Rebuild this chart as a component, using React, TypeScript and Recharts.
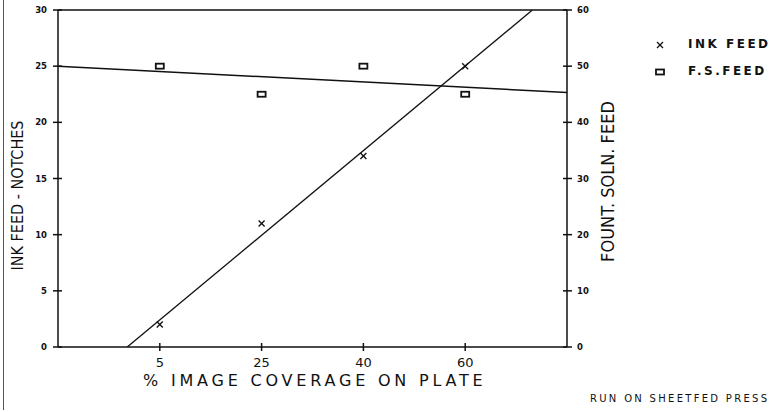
import React from "react";
import {
  ComposedChart,
  Line,
  Scatter,
  XAxis,
  YAxis,
  ReferenceLine,
} from "recharts";

// % image coverage categories, drawn evenly spaced at positions 1..4
const coverage = ["5", "25", "40", "60"];
const inkFeed = [2, 11, 17, 25]; // notches, left axis
const fsFeed = [50, 45, 50, 45]; // fount. soln. feed, right axis

// fitted lines (x = category position)
const inkFitX = [0.68, 4.66];
const inkFitY = [0, 30];
const fsFitX = [0, 5];
const fsFitY = [50, 45.3];

const leftTicks = [0, 5, 10, 15, 20, 25, 30];
const rightTicks = [0, 10, 20, 30, 40, 50, 60];

const inkData = coverage.map((c, i) => ({ x: i + 1, label: c, y: inkFeed[i] }));
const fsData = coverage.map((c, i) => ({ x: i + 1, label: c, y: fsFeed[i] }));
const inkFit = inkFitX.map((x, i) => ({ x, y: inkFitY[i] }));
const fsFit = fsFitX.map((x, i) => ({ x, y: fsFitY[i] }));

const INK = "#111";

const LeftTick = (props: any) => {
  const { x, y, payload } = props;
  return (
    <g>
      <line x1={x - 5} x2={x + 4} y1={y} y2={y} stroke={INK} strokeWidth={1.5} />
      <text
        x={x - 11}
        y={y}
        dy={3}
        textAnchor="end"
        fontSize={8.5}
        fontWeight="bold"
        fontFamily="DejaVu Sans"
        fill={INK}
      >
        {payload.value}
      </text>
    </g>
  );
};

const RightTick = (props: any) => {
  const { x, y, payload } = props;
  return (
    <g>
      <line x1={x - 4} x2={x + 5} y1={y} y2={y} stroke={INK} strokeWidth={1.5} />
      <text
        x={x + 10}
        y={y}
        dy={3}
        textAnchor="start"
        fontSize={8.5}
        fontWeight="bold"
        fontFamily="DejaVu Sans"
        fill={INK}
      >
        {payload.value}
      </text>
    </g>
  );
};

const BottomTick = (props: any) => {
  const { x, y, payload } = props;
  return (
    <g>
      <line x1={x} x2={x} y1={y - 4} y2={y + 4} stroke={INK} strokeWidth={1.5} />
      <text
        x={x}
        y={y + 20}
        textAnchor="middle"
        fontSize={13}
        fontFamily="DejaVu Sans"
        fill={INK}
      >
        {coverage[payload.value - 1]}
      </text>
    </g>
  );
};

const Cross = (props: any) => {
  const { cx, cy } = props;
  return (
    <g stroke={INK} strokeWidth={1.3}>
      <line x1={cx - 3} y1={cy - 3} x2={cx + 3} y2={cy + 3} />
      <line x1={cx - 3} y1={cy + 3} x2={cx + 3} y2={cy - 3} />
    </g>
  );
};

const Box = (props: any) => {
  const { cx, cy } = props;
  return (
    <rect x={cx - 4} y={cy - 2.5} width={8} height={5} fill="#fff" stroke={INK} strokeWidth={1.8} />
  );
};

const LegendBox = () => (
  <div style={{ fontFamily: "DejaVu Sans", fontWeight: "bold", fontSize: 12, color: INK, letterSpacing: 2.5 }}>
    <div style={{ display: "flex", alignItems: "center", height: 27 }}>
      <svg width={33} height={12}>
        <Cross cx={5} cy={7} />
      </svg>
      <span>INK FEED</span>
    </div>
    <div style={{ display: "flex", alignItems: "center", height: 27 }}>
      <svg width={33} height={12}>
        <Box cx={5} cy={7} />
      </svg>
      <span>F.S.FEED</span>
    </div>
  </div>
);

const rotated = (size: number): React.CSSProperties => ({
  transform: "rotate(-90deg)",
  whiteSpace: "nowrap",
  fontFamily: "DejaVu Sans Condensed, DejaVu Sans",
  fontStretch: "condensed",
  fontSize: size,
  color: INK,
});

export default function App() {
  return (
    <div style={{ position: "absolute", left: 0, top: 0, width: 774, height: 412, background: "#fff" }}>
      <div style={{ position: "absolute", left: 3, top: 0, width: 1, height: 410, background: "#555" }} />
      <ComposedChart
        width={774}
        height={412}
        margin={{ top: 10, right: 167, bottom: 35, left: 8 }}
      >
        <XAxis
          dataKey="x"
          type="number"
          domain={[0, 5]}
          ticks={[1, 2, 3, 4]}
          height={30}
          tickSize={0}
          tickMargin={0}
          tickLine={false}
          axisLine={{ stroke: INK, strokeWidth: 1.5 }}
          tick={<BottomTick />}
          allowDataOverflow
        />
        <YAxis
          yAxisId="left"
          type="number"
          domain={[0, 30]}
          ticks={leftTicks}
          width={50}
          tickSize={0}
          tickMargin={0}
          tickLine={false}
          axisLine={{ stroke: INK, strokeWidth: 1.5 }}
          tick={<LeftTick />}
          allowDataOverflow
        />
        <YAxis
          yAxisId="right"
          orientation="right"
          type="number"
          domain={[0, 60]}
          ticks={rightTicks}
          width={40}
          tickSize={0}
          tickMargin={0}
          tickLine={false}
          axisLine={{ stroke: INK, strokeWidth: 1.5 }}
          tick={<RightTick />}
          allowDataOverflow
        />
        <ReferenceLine yAxisId="left" y={30} stroke={INK} strokeWidth={1.5} />
        <Line
          yAxisId="left"
          data={inkFit}
          dataKey="y"
          type="linear"
          stroke={INK}
          strokeWidth={1.3}
          dot={false}
          activeDot={false}
          legendType="none"
          isAnimationActive={false}
        />
        <Line
          yAxisId="right"
          data={fsFit}
          dataKey="y"
          type="linear"
          stroke={INK}
          strokeWidth={1.5}
          dot={false}
          activeDot={false}
          legendType="none"
          isAnimationActive={false}
        />
        <Scatter
          yAxisId="left"
          name="INK FEED"
          data={inkData}
          dataKey="y"
          shape={<Cross />}
          isAnimationActive={false}
        />
        <Scatter
          yAxisId="right"
          name="F.S.FEED"
          data={fsData}
          dataKey="y"
          shape={<Box />}
          isAnimationActive={false}
        />
      </ComposedChart>
      <div style={{ position: "absolute", left: 655, top: 30 }}>
        <LegendBox />
      </div>
      <div
        style={{
          position: "absolute",
          left: 6,
          top: 100,
          width: 24,
          height: 190,
          display: "flex",
          alignItems: "center",
          justifyContent: "center",
        }}
      >
        <div style={rotated(16)}>INK FEED - NOTCHES</div>
      </div>
      <div
        style={{
          position: "absolute",
          left: 595,
          top: 91,
          width: 24,
          height: 180,
          display: "flex",
          alignItems: "center",
          justifyContent: "center",
        }}
      >
        <div style={rotated(18)}>FOUNT. SOLN. FEED</div>
      </div>
      <div
        style={{
          position: "absolute",
          left: 143,
          top: 371,
          fontFamily: "DejaVu Sans",
          fontSize: 16,
          letterSpacing: 3.8,
          color: INK,
          whiteSpace: "nowrap",
        }}
      >
        % IMAGE COVERAGE ON PLATE
      </div>
      <div
        style={{
          position: "absolute",
          left: 590,
          top: 393,
          fontFamily: "DejaVu Sans",
          fontSize: 10,
          letterSpacing: 2.3,
          color: INK,
          whiteSpace: "nowrap",
        }}
      >
        RUN ON SHEETFED PRESS
      </div>
    </div>
  );
}
